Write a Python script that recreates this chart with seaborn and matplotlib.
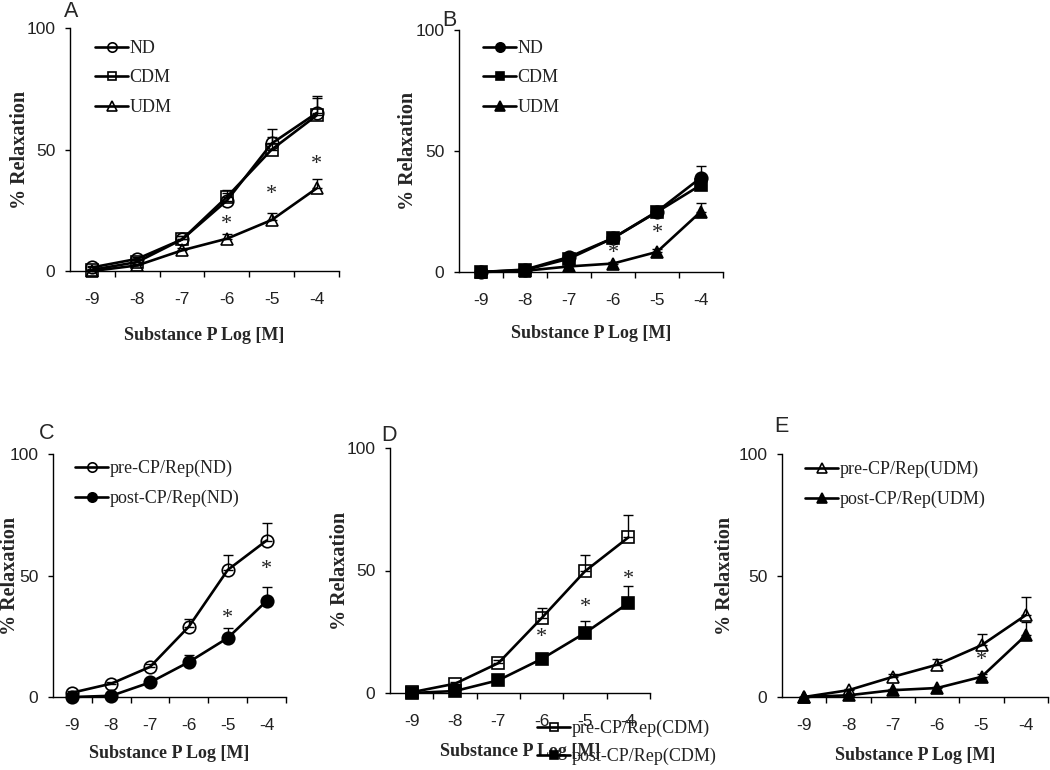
import numpy as np
import pandas as pd
import matplotlib
matplotlib.use("Agg")
import matplotlib.pyplot as plt
import seaborn as sns

sns.set_style("ticks")
plt.rcParams['font.family'] = ['Liberation Sans', 'DejaVu Sans']

# ---------------- data ----------------
x_labels = ['-9', '-8', '-7', '-6', '-5', '-4']

# Panel A (open markers)
a_nd = [1.5, 5.0, 13.0, 29.0, 52.5, 65.0]
a_nd_err = [0.5, 0.8, 1.2, 3.0, 6.0, 7.0]
a_cdm = [0.5, 3.7, 13.0, 30.5, 50.0, 64.0]
a_cdm_err = [0.5, 1.0, 1.5, 3.0, 5.0, 7.0]
a_udm = [0.0, 2.3, 8.5, 13.3, 21.0, 34.0]
a_udm_err = [0.3, 0.5, 1.0, 2.0, 3.0, 4.0]
a_star_idx = [3, 4, 5]
a_star_y = [19.0, 31.5, 44.0]

# Panel B (filled markers)
b_nd = [0.0, 1.0, 6.2, 14.0, 25.0, 39.0]
b_nd_err = [0.2, 0.3, 1.0, 1.2, 2.0, 5.0]
b_cdm = [0.0, 0.8, 5.5, 14.0, 24.8, 36.0]
b_cdm_err = [0.2, 0.3, 1.0, 1.2, 2.0, 3.0]
b_udm = [0.0, 0.5, 2.3, 3.5, 8.3, 25.0]
b_udm_err = [0.2, 0.2, 0.5, 0.6, 1.0, 3.5]
b_star_idx = [3, 4]
b_star_y = [7.6, 15.9]

# Panel C
c_pre = [1.8, 5.5, 12.4, 29.0, 52.3, 64.4]
c_pre_err = [0.5, 0.8, 1.0, 3.0, 6.0, 7.4]
c_post = [0.0, 0.5, 6.0, 14.4, 24.3, 39.5]
c_post_err = [0.3, 0.3, 0.8, 2.8, 4.3, 5.9]
c_star_idx = [4, 5]
c_star_y = [32.3, 52.3]

# Panel D
d_pre = [0.3, 3.8, 12.2, 30.6, 49.7, 63.5]
d_pre_err = [0.3, 0.8, 1.2, 4.1, 6.8, 9.3]
d_post = [0.0, 0.8, 5.2, 13.9, 24.5, 36.7]
d_post_err = [0.2, 0.5, 1.3, 1.8, 4.8, 6.8]
d_star_idx = [3, 4, 5]
d_star_y = [22.7, 34.7, 46.5]

# Panel E
e_pre = [0.0, 2.8, 8.3, 13.3, 21.3, 33.7]
e_pre_err = [0.2, 0.5, 1.2, 2.5, 4.7, 7.6]
e_post = [0.0, 0.7, 2.8, 3.7, 8.3, 25.4]
e_post_err = [0.2, 0.3, 0.5, 0.6, 1.0, 5.3]
e_star_idx = [4]
e_star_y = [15.1]

y_ticks = [0, 50, 100]
xlabel = 'Substance P Log [M]'
ylabel = '% Relaxation'

# ---------------- layout ----------------
W, H = 1050, 770
fig = plt.figure(figsize=(W / 100, H / 100), dpi=100)
fig.patch.set_facecolor('white')

SERIF = ['Liberation Serif', 'DejaVu Serif']
SANS = ['Liberation Sans', 'DejaVu Sans']


def make_ax(left, top, right, bottom):
    return fig.add_axes([left / W, 1 - bottom / H, (right - left) / W, (bottom - top) / H])


def style_ax(ax, px_w, px_h, xl_off, yl_off):
    ax.set_xlim(-0.5, len(x_labels) - 0.5)
    ax.set_ylim(0, 100)
    for s in ['top', 'right']:
        ax.spines[s].set_visible(False)
    for s in ['left', 'bottom']:
        ax.spines[s].set_linewidth(1.0)
        ax.spines[s].set_color('black')
    ax.set_xticks(range(len(x_labels)))
    ax.set_xticklabels(x_labels)
    ax.set_xticks(np.arange(0.5, len(x_labels), 1.0), minor=True)
    ax.tick_params(axis='x', which='major', length=0, pad=15, labelsize=12.5)
    ax.tick_params(axis='x', which='minor', length=4.5, width=1.0, direction='out', color='black')
    ax.set_yticks(y_ticks)
    ax.tick_params(axis='y', which='major', length=3.6, width=1.0, direction='out', pad=7,
                   labelsize=12.5, color='black')
    for lab in ax.get_xticklabels() + ax.get_yticklabels():
        lab.set_fontfamily(SANS)
        lab.set_color('#222222')
    ax.set_xlabel(xlabel, fontsize=13, fontweight='bold', family=SERIF, va='center')
    ax.set_ylabel(ylabel, fontsize=14.5, fontweight='bold', family=SERIF, va='center')
    ax.xaxis.set_label_coords(0.5, -xl_off / px_h)
    ax.yaxis.set_label_coords(-yl_off / px_w, 0.5)
    ax.grid(False)


def draw_series(ax, vals, errs, marker, filled, label, ms=9):
    xpos = np.arange(len(x_labels))
    ax.errorbar(xpos, vals, yerr=[np.zeros(len(errs)), errs], fmt='none', ecolor='black',
                elinewidth=1.0, capsize=3.3, capthick=1.0, zorder=2, clip_on=False)
    df = pd.DataFrame({'x': xpos, 'y': vals})
    sns.lineplot(data=df, x='x', y='y', ax=ax, color='black', linewidth=1.9,
                 marker=marker, markersize=ms,
                 markerfacecolor=('black' if filled else 'none'),
                 markeredgecolor='black', markeredgewidth=1.2,
                 label=label, zorder=3, clip_on=False, legend=False)


def stars(ax, idx, ys):
    for i, y in zip(idx, ys):
        ax.text(i, y, '*', ha='center', va='center', fontsize=16, family=SERIF, color='#222222')


def legend(ax, x_px, y_px, spacing=0.69):
    leg = ax.legend(loc='upper left', bbox_to_anchor=(x_px / W, 1 - y_px / H),
                    bbox_transform=fig.transFigure, frameon=False, borderpad=0,
                    borderaxespad=0, handlelength=1.85, handletextpad=0.05,
                    labelspacing=spacing, markerscale=0.75,
                    prop={'family': SERIF, 'size': 13})
    for t in leg.get_texts():
        t.set_color('#222222')
    return leg


def panel_label(txt, x_px, y_px):
    fig.text(x_px / W, 1 - y_px / H, txt, ha='left', va='top', fontsize=15.5, family=SANS)


# Panel A
L, T, R, B_ = 70, 28, 339, 271
axA = make_ax(L, T, R, B_)
draw_series(axA, a_nd, a_nd_err, 'o', False, 'ND')
draw_series(axA, a_cdm, a_cdm_err, 's', False, 'CDM', ms=8.5)
draw_series(axA, a_udm, a_udm_err, '^', False, 'UDM')
stars(axA, a_star_idx, a_star_y)
style_ax(axA, R - L, B_ - T, 64, 50)
legend(axA, 95, 40)
panel_label('A', 64, 1)

# Panel B
L, T, R, B_ = 459, 30, 723, 272
axB = make_ax(L, T, R, B_)
draw_series(axB, b_nd, b_nd_err, 'o', True, 'ND')
draw_series(axB, b_cdm, b_cdm_err, 's', True, 'CDM', ms=8.5)
draw_series(axB, b_udm, b_udm_err, '^', True, 'UDM')
stars(axB, b_star_idx, b_star_y)
style_ax(axB, R - L, B_ - T, 61, 51)
legend(axB, 483, 40)
panel_label('B', 442, 10)

# Panel C
L, T, R, B_ = 53, 454, 286, 697
axC = make_ax(L, T, R, B_)
draw_series(axC, c_pre, c_pre_err, 'o', False, 'pre-CP/Rep(ND)')
draw_series(axC, c_post, c_post_err, 'o', True, 'post-CP/Rep(ND)')
stars(axC, c_star_idx, c_star_y)
style_ax(axC, R - L, B_ - T, 56, 43)
legend(axC, 75, 460)
panel_label('C', 39, 423)

# Panel D
L, T, R, B_ = 390, 448, 650, 693
axD = make_ax(L, T, R, B_)
draw_series(axD, d_pre, d_pre_err, 's', False, 'pre-CP/Rep(CDM)', ms=8.5)
draw_series(axD, d_post, d_post_err, 's', True, 'post-CP/Rep(CDM)', ms=8.5)
stars(axD, d_star_idx, d_star_y)
style_ax(axD, R - L, B_ - T, 59, 50)
legend(axD, 537, 720, spacing=0.58)
panel_label('D', 381, 425)

# Panel E
L, T, R, B_ = 782, 454, 1048, 697
axE = make_ax(L, T, R, B_)
draw_series(axE, e_pre, e_pre_err, '^', False, 'pre-CP/Rep(UDM)')
draw_series(axE, e_post, e_post_err, '^', True, 'post-CP/Rep(UDM)')
stars(axE, e_star_idx, e_star_y)
style_ax(axE, R - L, B_ - T, 58, 57)
legend(axE, 805, 461)
panel_label('E', 774, 416)

fig.savefig('out.png', dpi=100, facecolor='white')
